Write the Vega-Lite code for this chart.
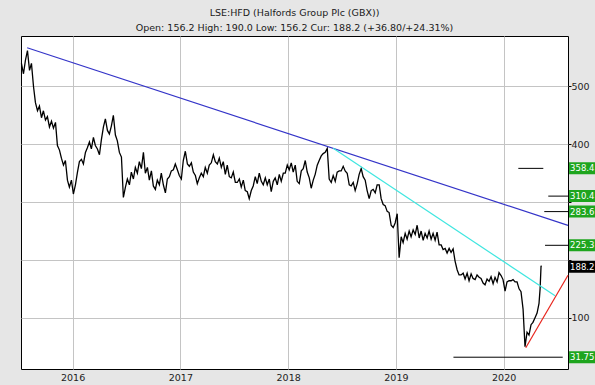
{
  "$schema": "https://vega.github.io/schema/vega-lite/v6.json",
  "width": 547,
  "height": 333,
  "autosize": {"type": "none"},
  "padding": {"left": 21, "top": 36, "right": 27, "bottom": 16},
  "background": "#e6e6e6",
  "view": {"fill": "white", "stroke": "black", "strokeWidth": 1},
  "config": {"font": "DejaVu Sans"},
  "title": {
    "text": ["LSE:HFD (Halfords Group Plc (GBX))", "Open: 156.2 High: 190.0 Low: 156.2 Cur: 188.2 (+36.80/+24.31%)"],
    "font": "DejaVu Sans",
    "fontSize": 9.5,
    "fontWeight": "normal",
    "color": "#1a1a1a",
    "lineHeight": 14.5,
    "offset": 4,
    "anchor": "middle"
  },
  "datasets": {
    "price": [
      {"t":2015.525,"v":540},{"t":2015.544,"v":522},{"t":2015.562,"v":545},{"t":2015.581,"v":562},{"t":2015.600,"v":528},
      {"t":2015.618,"v":540},{"t":2015.637,"v":500},{"t":2015.655,"v":472},{"t":2015.674,"v":458},{"t":2015.692,"v":466},
      {"t":2015.711,"v":446},{"t":2015.729,"v":458},{"t":2015.748,"v":442},{"t":2015.766,"v":448},{"t":2015.785,"v":430},
      {"t":2015.804,"v":440},{"t":2015.822,"v":428},{"t":2015.841,"v":438},{"t":2015.859,"v":398},{"t":2015.878,"v":390},
      {"t":2015.896,"v":376},{"t":2015.915,"v":364},{"t":2015.933,"v":372},{"t":2015.952,"v":338},{"t":2015.970,"v":326},
      {"t":2015.989,"v":338},{"t":2016.007,"v":314},{"t":2016.026,"v":330},{"t":2016.045,"v":352},{"t":2016.063,"v":370},
      {"t":2016.082,"v":374},{"t":2016.100,"v":366},{"t":2016.119,"v":386},{"t":2016.137,"v":394},{"t":2016.156,"v":404},
      {"t":2016.174,"v":392},{"t":2016.193,"v":412},{"t":2016.211,"v":398},{"t":2016.230,"v":392},{"t":2016.249,"v":382},
      {"t":2016.267,"v":408},{"t":2016.286,"v":430},{"t":2016.304,"v":444},{"t":2016.323,"v":424},{"t":2016.341,"v":418},
      {"t":2016.360,"v":432},{"t":2016.378,"v":450},{"t":2016.397,"v":416},{"t":2016.415,"v":406},{"t":2016.434,"v":386},
      {"t":2016.453,"v":378},{"t":2016.471,"v":308},{"t":2016.490,"v":326},{"t":2016.508,"v":340},{"t":2016.527,"v":330},
      {"t":2016.545,"v":352},{"t":2016.564,"v":340},{"t":2016.582,"v":360},{"t":2016.601,"v":350},{"t":2016.619,"v":370},
      {"t":2016.638,"v":358},{"t":2016.657,"v":386},{"t":2016.675,"v":350},{"t":2016.694,"v":360},{"t":2016.712,"v":338},
      {"t":2016.731,"v":354},{"t":2016.749,"v":328},{"t":2016.768,"v":322},{"t":2016.786,"v":338},{"t":2016.805,"v":330},
      {"t":2016.823,"v":350},{"t":2016.842,"v":330},{"t":2016.861,"v":316},{"t":2016.879,"v":340},{"t":2016.898,"v":344},
      {"t":2016.916,"v":354},{"t":2016.935,"v":356},{"t":2016.953,"v":366},{"t":2016.972,"v":356},{"t":2016.990,"v":346},
      {"t":2017.009,"v":340},{"t":2017.027,"v":372},{"t":2017.046,"v":388},{"t":2017.065,"v":366},{"t":2017.083,"v":362},
      {"t":2017.102,"v":368},{"t":2017.120,"v":352},{"t":2017.139,"v":346},{"t":2017.157,"v":332},{"t":2017.176,"v":342},
      {"t":2017.194,"v":350},{"t":2017.213,"v":344},{"t":2017.231,"v":360},{"t":2017.250,"v":350},{"t":2017.268,"v":364},
      {"t":2017.287,"v":368},{"t":2017.306,"v":382},{"t":2017.324,"v":370},{"t":2017.343,"v":366},{"t":2017.361,"v":376},
      {"t":2017.380,"v":360},{"t":2017.398,"v":370},{"t":2017.417,"v":348},{"t":2017.435,"v":364},{"t":2017.454,"v":344},
      {"t":2017.472,"v":342},{"t":2017.491,"v":352},{"t":2017.510,"v":334},{"t":2017.528,"v":334},{"t":2017.547,"v":340},
      {"t":2017.565,"v":326},{"t":2017.584,"v":338},{"t":2017.602,"v":320},{"t":2017.621,"v":318},{"t":2017.639,"v":306},
      {"t":2017.658,"v":320},{"t":2017.676,"v":328},{"t":2017.695,"v":344},{"t":2017.713,"v":332},{"t":2017.732,"v":350},
      {"t":2017.751,"v":336},{"t":2017.769,"v":330},{"t":2017.788,"v":342},{"t":2017.806,"v":330},{"t":2017.825,"v":340},
      {"t":2017.843,"v":318},{"t":2017.862,"v":336},{"t":2017.880,"v":342},{"t":2017.899,"v":330},{"t":2017.918,"v":348},
      {"t":2017.936,"v":336},{"t":2017.955,"v":350},{"t":2017.973,"v":350},{"t":2017.992,"v":364},{"t":2018.010,"v":356},
      {"t":2018.029,"v":368},{"t":2018.047,"v":352},{"t":2018.066,"v":364},{"t":2018.084,"v":336},{"t":2018.103,"v":332},
      {"t":2018.122,"v":354},{"t":2018.140,"v":358},{"t":2018.159,"v":372},{"t":2018.177,"v":352},{"t":2018.196,"v":342},
      {"t":2018.214,"v":324},{"t":2018.233,"v":338},{"t":2018.251,"v":348},{"t":2018.270,"v":364},{"t":2018.288,"v":372},
      {"t":2018.307,"v":380},{"t":2018.325,"v":384},{"t":2018.344,"v":386},{"t":2018.363,"v":393},{"t":2018.381,"v":340},
      {"t":2018.400,"v":334},{"t":2018.418,"v":346},{"t":2018.437,"v":336},{"t":2018.455,"v":352},{"t":2018.474,"v":354},
      {"t":2018.492,"v":354},{"t":2018.511,"v":362},{"t":2018.529,"v":354},{"t":2018.548,"v":350},{"t":2018.567,"v":330},
      {"t":2018.585,"v":328},{"t":2018.604,"v":334},{"t":2018.622,"v":320},{"t":2018.641,"v":332},{"t":2018.659,"v":348},
      {"t":2018.678,"v":358},{"t":2018.696,"v":344},{"t":2018.715,"v":338},{"t":2018.733,"v":320},{"t":2018.752,"v":306},
      {"t":2018.771,"v":320},{"t":2018.789,"v":322},{"t":2018.808,"v":316},{"t":2018.826,"v":330},{"t":2018.845,"v":330},
      {"t":2018.863,"v":306},{"t":2018.882,"v":296},{"t":2018.900,"v":294},{"t":2018.919,"v":284},{"t":2018.937,"v":282},
      {"t":2018.956,"v":260},{"t":2018.975,"v":256},{"t":2018.993,"v":264},{"t":2019.012,"v":280},{"t":2019.030,"v":204},
      {"t":2019.049,"v":240},{"t":2019.067,"v":230},{"t":2019.086,"v":246},{"t":2019.104,"v":236},{"t":2019.123,"v":250},
      {"t":2019.141,"v":240},{"t":2019.160,"v":252},{"t":2019.179,"v":244},{"t":2019.197,"v":260},{"t":2019.216,"v":238},
      {"t":2019.234,"v":250},{"t":2019.253,"v":234},{"t":2019.271,"v":246},{"t":2019.290,"v":238},{"t":2019.308,"v":250},
      {"t":2019.327,"v":236},{"t":2019.345,"v":246},{"t":2019.364,"v":234},{"t":2019.382,"v":248},{"t":2019.401,"v":226},
      {"t":2019.420,"v":226},{"t":2019.438,"v":218},{"t":2019.457,"v":220},{"t":2019.475,"v":212},{"t":2019.494,"v":220},
      {"t":2019.512,"v":213},{"t":2019.531,"v":219},{"t":2019.549,"v":198},{"t":2019.568,"v":183},{"t":2019.586,"v":174},
      {"t":2019.605,"v":174},{"t":2019.624,"v":177},{"t":2019.642,"v":167},{"t":2019.661,"v":177},{"t":2019.679,"v":164},
      {"t":2019.698,"v":176},{"t":2019.716,"v":168},{"t":2019.735,"v":166},{"t":2019.753,"v":174},{"t":2019.772,"v":170},
      {"t":2019.790,"v":168},{"t":2019.809,"v":160},{"t":2019.827,"v":157},{"t":2019.846,"v":167},{"t":2019.865,"v":163},
      {"t":2019.883,"v":171},{"t":2019.902,"v":159},{"t":2019.920,"v":170},{"t":2019.939,"v":162},{"t":2019.957,"v":178},
      {"t":2019.976,"v":173},{"t":2019.994,"v":166},{"t":2020.013,"v":146},{"t":2020.031,"v":162},{"t":2020.050,"v":164},
      {"t":2020.069,"v":164},{"t":2020.087,"v":166},{"t":2020.106,"v":162},{"t":2020.124,"v":162},{"t":2020.143,"v":150},
      {"t":2020.161,"v":145},{"t":2020.180,"v":115},{"t":2020.198,"v":50},{"t":2020.217,"v":75},{"t":2020.235,"v":70},
      {"t":2020.254,"v":88},{"t":2020.272,"v":92},{"t":2020.291,"v":100},{"t":2020.310,"v":108},{"t":2020.328,"v":125},
      {"t":2020.338,"v":150},{"t":2020.347,"v":190},{"t":2020.350,"v":188.2}
    ],
    "longTrend": [{"t": 2015.578, "v": 567}, {"t": 2020.597, "v": 259.7}],
    "shortTrend": [{"t": 2018.418, "v": 393}, {"t": 2020.477, "v": 138}],
    "upTrend": [{"t": 2020.205, "v": 48}, {"t": 2020.597, "v": 173.6}],
    "levels": [
      {"t0": 2020.136, "t1": 2020.368, "v": 358.4},
      {"t0": 2020.414, "t1": 2020.597, "v": 310.4},
      {"t0": 2020.377, "t1": 2020.597, "v": 283.6},
      {"t0": 2020.384, "t1": 2020.597, "v": 225.3},
      {"t0": 2019.534, "t1": 2020.548, "v": 31.75}
    ],
    "tags": [
      {"v": 358.4, "label": "358.4", "kind": "target"},
      {"v": 310.4, "label": "310.4", "kind": "target"},
      {"v": 283.6, "label": "283.6", "kind": "target"},
      {"v": 225.3, "label": "225.3", "kind": "target"},
      {"v": 188.2, "label": "188.2", "kind": "current"},
      {"v": 31.75, "label": "31.75", "kind": "target"}
    ]
  },
  "layer": [
    {
      "data": {"name": "price"},
      "mark": {"type": "line", "color": "black", "strokeWidth": 1.3},
      "encoding": {
        "x": {
          "field": "t", "type": "quantitative",
          "scale": {"domain": [2015.521, 2020.597], "nice": false, "zero": false},
          "axis": {
            "values": [2016, 2017, 2018, 2019, 2020], "format": "d", "title": null,
            "domain": false, "ticks": false, "labelPadding": 3,
            "grid": true, "gridColor": "#c4c4c4", "gridWidth": 1,
            "labelFont": "DejaVu Sans", "labelFontSize": 9.5, "labelColor": "#222222"
          }
        },
        "y": {
          "field": "v", "type": "quantitative",
          "scale": {"domain": [20, 578.7], "nice": false, "zero": false},
          "axis": {
            "orient": "right", "title": null, "domain": false,
            "values": [100, 200, 300, 400, 500], "format": "d",
            "labelExpr": "datum.value == 200 || datum.value == 300 ? '' : datum.label",
            "grid": true, "gridColor": "#c4c4c4", "gridWidth": 1,
            "tickSize": 3, "tickColor": "black", "labelPadding": 0,
            "labelFont": "DejaVu Sans", "labelFontSize": 9.5, "labelColor": "#222222"
          }
        }
      }
    },
    {
      "data": {"name": "longTrend"},
      "mark": {"type": "line", "color": "#3434c8", "strokeWidth": 1.2},
      "encoding": {"x": {"field": "t", "type": "quantitative"}, "y": {"field": "v", "type": "quantitative"}}
    },
    {
      "data": {"name": "shortTrend"},
      "mark": {"type": "line", "color": "#3fe6e0", "strokeWidth": 1.2},
      "encoding": {"x": {"field": "t", "type": "quantitative"}, "y": {"field": "v", "type": "quantitative"}}
    },
    {
      "data": {"name": "upTrend"},
      "mark": {"type": "line", "color": "#e8241c", "strokeWidth": 1.2},
      "encoding": {"x": {"field": "t", "type": "quantitative"}, "y": {"field": "v", "type": "quantitative"}}
    },
    {
      "data": {"name": "levels"},
      "mark": {"type": "rule", "color": "black", "strokeWidth": 1},
      "encoding": {
        "x": {"field": "t0", "type": "quantitative"},
        "x2": {"field": "t1"},
        "y": {"field": "v", "type": "quantitative"}
      }
    },
    {
      "data": {"name": "tags"},
      "mark": {"type": "bar", "orient": "horizontal", "size": 12},
      "encoding": {
        "x": {"datum": 2020.607, "type": "quantitative"},
        "x2": {"datum": 2021.0},
        "y": {"field": "v", "type": "quantitative"},
        "color": {"field": "kind", "type": "nominal", "scale": {"domain": ["target", "current"], "range": ["#1ea51e", "#000000"]}, "legend": null}
      }
    },
    {
      "data": {"name": "tags"},
      "mark": {"type": "text", "align": "left", "baseline": "middle", "dx": 1, "color": "white", "font": "DejaVu Sans", "fontSize": 8.5},
      "encoding": {
        "x": {"datum": 2020.607, "type": "quantitative"},
        "y": {"field": "v", "type": "quantitative"},
        "text": {"field": "label"}
      }
    }
  ]
}
